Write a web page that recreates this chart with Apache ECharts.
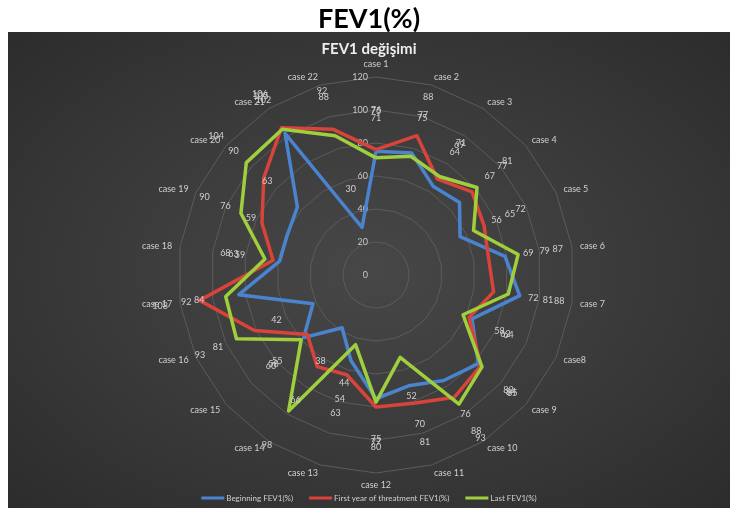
<!DOCTYPE html>
<html><head><meta charset="utf-8">
<script src="https://cdn.jsdelivr.net/npm/echarts@6/dist/echarts.min.js"></script>
<style>
html,body{margin:0;padding:0;background:#fff;}
#wrap{position:relative;width:738px;height:508px;}
#bg{position:absolute;left:8px;top:32px;width:722px;height:476px;
 background:radial-gradient(ellipse at 50% 50%, #474747 0%, #3c3c3c 45%, #2c2c2c 100%);}
#c{position:absolute;left:0;top:0;width:738px;height:508px;}
</style>
</head><body>
<div id="wrap"><div id="bg"></div><div id="c"></div></div>
<script>
const categories = ['case 1','case 2','case 3','case 4','case 5','case 6','case 7','case8','case 9','case 10','case 11',
  'case 12','case 13','case 14','case 15','case 16','case 17','case 18','case 19','case 20','case 21','case 22'];
const beginningFEV1 = [75,77,64,67,56,79,88,64,82,76,70,75,54,38,58,42,84,59,59,63,102,30];
const firstYearFEV1 = [76,88,69,77,72,69,72,62,84,88,81,80,63,66,55,81,108,63,76,90,106,92];
const lastFEV1      = [71,75,71,81,65,87,81,58,85,93,52,77,44,98,60,93,92,68,90,104,105,88];
const radialTicks = [0,20,40,60,80,100,120];
const seriesNames = ['Beginning FEV1(%)','First year of threatment FEV1(%)','Last FEV1(%)'];
const seriesColors = ['#4a84cf','#d8433a','#9fcf3c'];

const values = [beginningFEV1, firstYearFEV1, lastFEV1];
// ECharts radar runs counter-clockwise; reorder so cases run clockwise like the original
const order = [0].concat(categories.map((_, i) => categories.length - 1 - i).slice(0, categories.length - 1));
const reorder = arr => order.map(i => arr[i]);

const C = [376, 275];
const R = 198;
const axisMax = radialTicks[radialTicks.length - 1];
const labelGap = 40;
const labelMin = -labelGap / R * axisMax;

const chart = echarts.init(document.getElementById('c'), null, {renderer: 'canvas'});
const series = [];
values.forEach((v, i) => {
  series.push({
    type: 'radar', radarIndex: 0, name: seriesNames[i], symbol: 'none', z: 3 + i,
    lineStyle: {color: seriesColors[i], width: 3.5},
    itemStyle: {color: seriesColors[i]},
    data: [{value: reorder(v), name: seriesNames[i]}]
  });
});
values.forEach((v, i) => {
  series.push({
    type: 'radar', radarIndex: 1, name: 'lbl' + i, symbol: 'circle', symbolSize: 1, silent: true, z: 10,
    lineStyle: {width: 0, opacity: 0},
    itemStyle: {color: 'rgba(0,0,0,0)'},
    label: {show: true, position: 'inside', color: '#d0d0d0', fontSize: 9, fontFamily: 'Lato'},
    data: [{value: reorder(v), name: 'lbl' + i}]
  });
});

chart.setOption({
  animation: false,
  textStyle: {fontFamily: 'Lato'},
  title: [
    {text: 'FEV1(%)', left: 'center', top: 1, textStyle: {fontFamily: 'Lato', fontWeight: 'bold', fontSize: 27, color: '#000'}},
    {text: 'FEV1 değişimi', left: 'center', top: 37, textStyle: {fontFamily: 'Lato', fontWeight: 'bold', fontSize: 15, color: '#eeeeee'}}
  ],
  legend: {
    data: seriesNames, bottom: 1, left: 'center', icon: 'rect', itemWidth: 23, itemHeight: 3, itemGap: 16,
    textStyle: {color: '#d0d0d0', fontSize: 8, fontFamily: 'Lato', padding: [0, 0, 0, -3]}
  },
  radar: [
    {
      center: C, radius: R, splitNumber: radialTicks.length - 1, shape: 'polygon', startAngle: 90,
      indicator: reorder(categories).map(n => ({name: n, min: radialTicks[0], max: axisMax})),
      axisName: {color: '#d0d0d0', fontSize: 9, fontFamily: 'Lato'}, nameGap: 8,
      splitLine: {lineStyle: {color: '#5c5c5c', width: 1}},
      splitArea: {show: false}, axisLine: {show: false}, axisTick: {show: false}, axisLabel: {show: false}
    },
    {
      center: C, radius: R + labelGap, splitNumber: 1, shape: 'polygon', startAngle: 90,
      indicator: categories.map(() => ({name: '', min: labelMin, max: axisMax})),
      axisName: {show: false}, splitLine: {show: false}, splitArea: {show: false},
      axisLine: {show: false}, axisTick: {show: false}, axisLabel: {show: false}
    }
  ],
  polar: {center: C, radius: R},
  angleAxis: {show: false, startAngle: 90, min: 0, max: 360},
  radiusAxis: {
    min: radialTicks[0], max: axisMax, interval: radialTicks[1] - radialTicks[0],
    axisLine: {show: false}, axisTick: {show: false}, splitLine: {show: false},
    axisLabel: {color: '#c8c8c8', fontSize: 9, fontFamily: 'Lato', margin: 8}
  },
  series: series
});
</script>
</body></html>
